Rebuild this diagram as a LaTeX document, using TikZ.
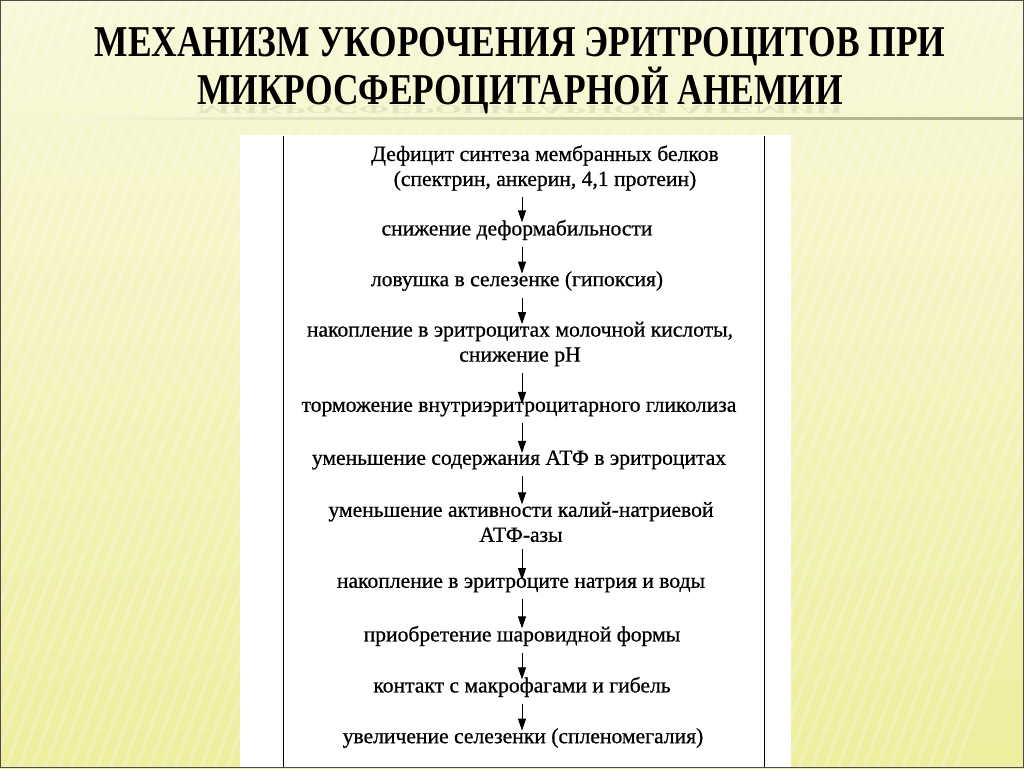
\documentclass[tikz,border=0pt]{standalone}
\usepackage{fontspec}
\setmainfont{Liberation Serif}
\newfontfamily\bodyfont[FakeBold=0.7]{Liberation Serif}
\usetikzlibrary{arrows.meta,calc}
\definecolor{bgtop}{HTML}{F8F8D8}
\definecolor{bgbot}{HTML}{EEEE9E}
\definecolor{sepcol}{HTML}{A8A880}
\begin{document}
\begin{tikzpicture}[x=0.75pt,y=-0.75pt,
  txt/.style={font=\bodyfont\fontsize{16.2}{18.75}\selectfont, align=center, inner sep=1pt, text=black},
  ttl/.style={font=\fontsize{33}{36}\selectfont\bfseries, inner sep=0pt, anchor=base, text height=22pt, text depth=3pt},
  refl/.style={font=\fontsize{33}{36}\selectfont\bfseries, inner sep=0pt, anchor=base, text=black, opacity=0.08, text height=0pt, text depth=3.5pt},
  arr/.style={-{Triangle[length=9pt,width=6pt]}, line width=0.75pt, black},
  rule/.style={line width=0.6pt, black}]
\useasboundingbox (0,0) rectangle (1024,768);
% background
\shade[top color=bgtop, bottom color=bgbot] (0,0) rectangle (1024,768);
\begin{scope}
  \clip (0,0) rectangle (1024,768);
  \foreach \k in {0,...,95}
    \draw[white, opacity=0.2, line width=3pt] ({\k*13-280},768) -- ++(280,-768);
\end{scope}
% title
\node[refl] (r2) at (520,105.5) {\scalebox{0.805}[-0.28]{МИКРОСФЕРОЦИТАРНОЙ АНЕМИИ}};
\node[ttl] (t1) at (520,56) {\scalebox{0.805}[1]{МЕХАНИЗМ УКОРОЧЕНИЯ ЭРИТРОЦИТОВ ПРИ}};
\node[ttl] (t2) at (520,104) {\scalebox{0.805}[1]{МИКРОСФЕРОЦИТАРНОЙ АНЕМИИ}};
\shade[left color=bgtop, right color=sepcol] (62,117) rectangle (1024,119.5);
% white sheet
\fill[white] (240,135) rectangle (791,768);
\draw[rule] (283,136) -- (283,768);
\draw[rule] (764,136) -- (764,768);
% flow
\coordinate (ax) at (522,0);
\node[txt] (n1) at (545,168) {Дефицит синтеза мембранных белков\\(спектрин, анкерин, 4,1 протеин)};
\node[txt] (n2) at (517,230) {снижение деформабильности};
\node[txt] (n3) at (517,281) {ловушка в селезенке (гипоксия)};
\node[txt] (n4) at (520,344) {накопление в эритроцитах молочной кислоты,\\снижение pH};
\node[txt] (n5) at (519,409) {торможение внутриэритроцитарного гликолиза};
\node[txt] (n6) at (519,460) {уменьшение содержания АТФ в эритроцитах};
\node[txt] (n7) at (521,522) {уменьшение активности калий-натриевой\\АТФ-азы};
\node[txt] (n8) at (521,585) {накопление в эритроците натрия и воды};
\node[txt] (n9) at (522,636) {приобретение шаровидной формы};
\node[txt] (n10) at (522,687) {контакт с макрофагами и гибель};
\node[txt] (n11) at (523,738) {увеличение селезенки (спленомегалия)};
\foreach \a/\b in {n1/n2,n2/n3,n3/n4,n4/n5,n5/n6,n6/n7,n7/n8,n8/n9,n9/n10,n10/n11}
  \draw[arr, shorten <=4pt, shorten >=-3pt] (\a.south -| ax) -- (\b.north -| ax);
% frame
\draw[line width=0.9pt, black!70] (0.5,0.5) rectangle (1023.5,767.5);
\end{tikzpicture}
\end{document}
